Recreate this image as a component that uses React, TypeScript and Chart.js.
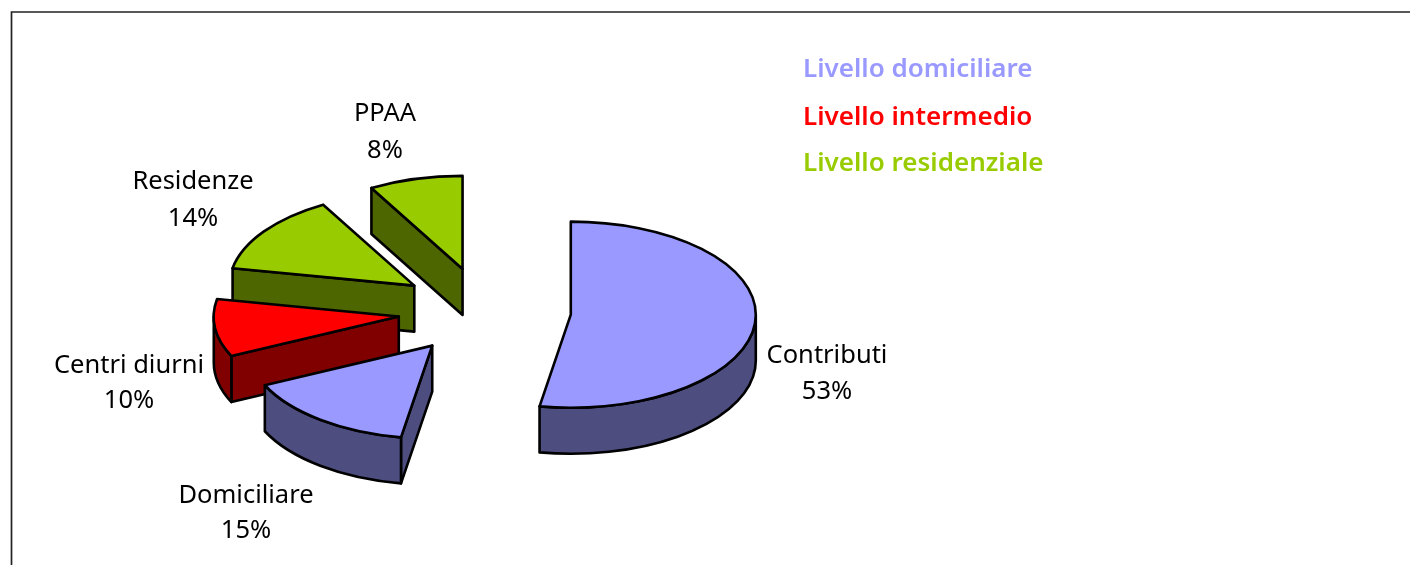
import React, { useEffect, useRef } from "react";
import { Chart, registerables } from "chart.js";

Chart.register(...registerables);

const categories = ["Contributi", "Domiciliare", "Centri diurni", "Residenze", "PPAA"];
const values = [52.7, 15.3, 10, 13.8, 8.2];
const topColors = ["#9999FF", "#9999FF", "#FF0000", "#99CC00", "#99CC00"];
const wallColors = ["#4D4D80", "#4D4D80", "#800000", "#4D6600", "#4D6600"];
const legendLabels = ["Livello domiciliare", "Livello intermedio", "Livello residenziale"];
const legendColors = ["#9999FF", "#FF0000", "#99CC00"];

const W = 1410;
const H = 565;
const RADIUS = 185;
const SQUASH = 0.503;
const DEPTH = 46;
const EXPLODE = 86.5;
const CENTER_X = 484.6;
const CENTER_Y = 311;
const LABEL_FONT = '25.5px "Noto Sans"';
const LEGEND_FONT = '600 26px "Noto Sans"';
const labelAnchors = [
  [827, 356, 392],
  [246, 496, 531],
  [129, 366, 401],
  [193, 182, 219],
  [385, 114, 151],
];
const legendAnchors = [
  [803, 70],
  [803, 118],
  [803, 164],
];

const pie3d = {
  id: "pie3d",
  beforeDatasetsDraw(chart: any) {
    const ctx = chart.ctx;
    const arcs = chart.getDatasetMeta(0).data;
    const items = arcs.map((el: any, i: number) => {
      const mid = (el.startAngle + el.endAngle) / 2;
      return {
        el,
        i,
        ax: el.x + Math.cos(mid) * EXPLODE,
        ay: el.y + Math.sin(mid) * EXPLODE * SQUASH,
      };
    });
    items.sort((p: any, q: any) => p.ay - q.ay);
    ctx.save();
    ctx.lineWidth = 2.6;
    ctx.lineJoin = "round";
    ctx.strokeStyle = "#000";
    for (const { el, i, ax, ay } of items) {
      const a0 = el.startAngle;
      const a1 = el.endAngle;
      const r = el.outerRadius;
      const rk = r * SQUASH;
      ctx.fillStyle = wallColors[i];
      // radial faces turned towards the viewer
      const faces = [];
      if (Math.cos(a0) < -1e-6) faces.push(a0);
      if (Math.cos(a1) > 1e-6) faces.push(a1);
      for (const a of faces) {
        const px = ax + Math.cos(a) * r;
        const py = ay + Math.sin(a) * rk;
        ctx.beginPath();
        ctx.moveTo(ax, ay);
        ctx.lineTo(px, py);
        ctx.lineTo(px, py + DEPTH);
        ctx.lineTo(ax, ay + DEPTH);
        ctx.closePath();
        ctx.fill();
        ctx.stroke();
      }
      // rim of the slice on the near half of the ellipse
      const from = Math.max(a0, 0);
      const to = Math.min(a1, Math.PI);
      if (to > from) {
        ctx.beginPath();
        ctx.ellipse(ax, ay, r, rk, 0, from, to);
        ctx.lineTo(ax + Math.cos(to) * r, ay + Math.sin(to) * rk + DEPTH);
        ctx.ellipse(ax, ay + DEPTH, r, rk, 0, to, from, true);
        ctx.closePath();
        ctx.fill();
        ctx.stroke();
      }
      // top face, drawn by the arc element itself
      ctx.save();
      ctx.translate(ax, ay);
      ctx.scale(1, SQUASH);
      ctx.translate(-el.x, -el.y);
      el.draw(ctx);
      ctx.restore();
      ctx.beginPath();
      ctx.moveTo(ax, ay);
      ctx.ellipse(ax, ay, r, rk, 0, a0, a1);
      ctx.closePath();
      ctx.stroke();
    }
    ctx.restore();
    return false;
  },
  afterDraw(chart: any) {
    const ctx = chart.ctx;
    ctx.save();
    ctx.strokeStyle = "#222";
    ctx.lineWidth = 1.7;
    ctx.beginPath();
    ctx.moveTo(11.5, H);
    ctx.lineTo(11.5, 12);
    ctx.lineTo(W, 12);
    ctx.stroke();

    const total = values.reduce((a, b) => a + b, 0);
    ctx.font = LABEL_FONT;
    ctx.fillStyle = "#000";
    ctx.textAlign = "center";
    ctx.textBaseline = "middle";
    categories.forEach((c, i) => {
      const [x, y1, y2] = labelAnchors[i];
      ctx.fillText(c, x, y1);
      ctx.fillText(`${Math.round((values[i] / total) * 100)}%`, x, y2);
    });
    ctx.font = LEGEND_FONT;
    ctx.textAlign = "left";
    legendLabels.forEach((t, i) => {
      ctx.fillStyle = legendColors[i];
      ctx.fillText(t, legendAnchors[i][0], legendAnchors[i][1]);
    });
    ctx.restore();
  },
};

export default function App() {
  const ref = useRef<HTMLCanvasElement>(null);
  useEffect(() => {
    const chart = new Chart(ref.current as HTMLCanvasElement, {
      type: "pie",
      data: {
        labels: categories,
        datasets: [
          {
            data: values,
            backgroundColor: topColors,
            borderWidth: 0,
          },
        ],
      },
      options: {
        responsive: false,
        animation: false,
        events: [],
        radius: RADIUS,
        layout: {
          padding: {
            left: 0,
            top: 2 * CENTER_Y - H > 0 ? 2 * CENTER_Y - H : 0,
            right: W - 2 * CENTER_X,
            bottom: H - 2 * CENTER_Y > 0 ? H - 2 * CENTER_Y : 0,
          },
        },
        plugins: { legend: { display: false }, tooltip: { enabled: false }, title: { display: false } },
      },
      plugins: [pie3d],
    } as any);
    return () => chart.destroy();
  }, []);
  return (
    <canvas
      ref={ref}
      width={W}
      height={H}
      style={{ position: "absolute", left: 0, top: 0, display: "block", background: "#fff" }}
    />
  );
}
